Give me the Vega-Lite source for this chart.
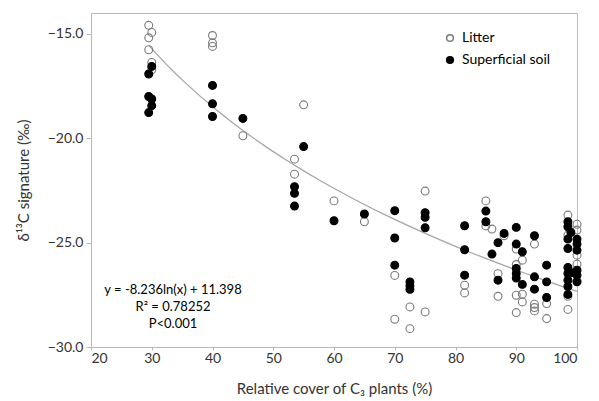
{
  "$schema": "https://vega.github.io/schema/vega-lite/v6.json",
  "width": 486,
  "height": 334,
  "autosize": {"type": "none"},
  "padding": {"left": 91, "top": 13, "right": 22, "bottom": 54},
  "background": "white",
  "config": {
    "font": "Lato",
    "view": {"stroke": "#b8b8b8", "strokeWidth": 1},
    "axis": {"grid": false, "domainColor": "#b8b8b8", "tickColor": "#b8b8b8", "labelColor": "#333333", "titleColor": "#333333", "labelFontSize": 14, "titleFontSize": 15, "titleFontWeight": "normal", "labelFont": "Lato", "titleFont": "Lato"}
  },
  "datasets": {
    "trend": [
      {"cover": 29.8, "d13C": -15.76},
      {"cover": 40, "d13C": -18.3},
      {"cover": 51.1, "d13C": -20.88},
      {"cover": 74.2, "d13C": -24.5},
      {"cover": 77.4, "d13C": -24.88},
      {"cover": 84.3, "d13C": -25.68},
      {"cover": 98.85, "d13C": -27.2}
    ],
    "pts": [
      {"cover": 29.5, "d13C": -14.59, "type": "Litter"},
      {"cover": 30, "d13C": -14.93, "type": "Litter"},
      {"cover": 29.5, "d13C": -15.19, "type": "Litter"},
      {"cover": 29.5, "d13C": -15.76, "type": "Litter"},
      {"cover": 30, "d13C": -16.37, "type": "Litter"},
      {"cover": 30, "d13C": -16.72, "type": "Litter"},
      {"cover": 40, "d13C": -15.08, "type": "Litter"},
      {"cover": 40, "d13C": -15.43, "type": "Litter"},
      {"cover": 40, "d13C": -15.6, "type": "Litter"},
      {"cover": 45, "d13C": -19.88, "type": "Litter"},
      {"cover": 55, "d13C": -18.4, "type": "Litter"},
      {"cover": 53.5, "d13C": -21.0, "type": "Litter"},
      {"cover": 53.5, "d13C": -21.72, "type": "Litter"},
      {"cover": 60, "d13C": -23.0, "type": "Litter"},
      {"cover": 65, "d13C": -24.0, "type": "Litter"},
      {"cover": 70, "d13C": -26.57, "type": "Litter"},
      {"cover": 70, "d13C": -28.67, "type": "Litter"},
      {"cover": 72.5, "d13C": -28.08, "type": "Litter"},
      {"cover": 72.5, "d13C": -29.12, "type": "Litter"},
      {"cover": 75, "d13C": -22.53, "type": "Litter"},
      {"cover": 75, "d13C": -28.32, "type": "Litter"},
      {"cover": 81.5, "d13C": -27.04, "type": "Litter"},
      {"cover": 81.5, "d13C": -27.41, "type": "Litter"},
      {"cover": 85, "d13C": -23.0, "type": "Litter"},
      {"cover": 85, "d13C": -24.2, "type": "Litter"},
      {"cover": 86, "d13C": -24.35, "type": "Litter"},
      {"cover": 88, "d13C": -24.67, "type": "Litter"},
      {"cover": 87, "d13C": -26.49, "type": "Litter"},
      {"cover": 87, "d13C": -27.57, "type": "Litter"},
      {"cover": 90, "d13C": -25.31, "type": "Litter"},
      {"cover": 90, "d13C": -26.05, "type": "Litter"},
      {"cover": 90, "d13C": -27.52, "type": "Litter"},
      {"cover": 90, "d13C": -28.35, "type": "Litter"},
      {"cover": 91, "d13C": -25.84, "type": "Litter"},
      {"cover": 91, "d13C": -27.47, "type": "Litter"},
      {"cover": 91, "d13C": -27.84, "type": "Litter"},
      {"cover": 93, "d13C": -25.07, "type": "Litter"},
      {"cover": 93, "d13C": -27.95, "type": "Litter"},
      {"cover": 93, "d13C": -28.11, "type": "Litter"},
      {"cover": 93, "d13C": -28.27, "type": "Litter"},
      {"cover": 95, "d13C": -27.92, "type": "Litter"},
      {"cover": 95, "d13C": -28.64, "type": "Litter"},
      {"cover": 98.5, "d13C": -23.68, "type": "Litter"},
      {"cover": 98.5, "d13C": -24.64, "type": "Litter"},
      {"cover": 98.5, "d13C": -27.57, "type": "Litter"},
      {"cover": 98.5, "d13C": -28.2, "type": "Litter"},
      {"cover": 100, "d13C": -24.12, "type": "Litter"},
      {"cover": 100, "d13C": -24.4, "type": "Litter"},
      {"cover": 100, "d13C": -25.6, "type": "Litter"},
      {"cover": 100, "d13C": -26.03, "type": "Litter"},
      {"cover": 100, "d13C": -26.84, "type": "Litter"},
      {"cover": 30, "d13C": -16.56, "type": "Superficial soil"},
      {"cover": 29.5, "d13C": -16.92, "type": "Superficial soil"},
      {"cover": 29.5, "d13C": -18.0, "type": "Superficial soil"},
      {"cover": 30, "d13C": -18.12, "type": "Superficial soil"},
      {"cover": 30, "d13C": -18.44, "type": "Superficial soil"},
      {"cover": 29.5, "d13C": -18.77, "type": "Superficial soil"},
      {"cover": 40, "d13C": -17.47, "type": "Superficial soil"},
      {"cover": 40, "d13C": -18.35, "type": "Superficial soil"},
      {"cover": 40, "d13C": -18.96, "type": "Superficial soil"},
      {"cover": 45, "d13C": -19.05, "type": "Superficial soil"},
      {"cover": 55, "d13C": -20.4, "type": "Superficial soil"},
      {"cover": 53.5, "d13C": -22.32, "type": "Superficial soil"},
      {"cover": 53.5, "d13C": -22.64, "type": "Superficial soil"},
      {"cover": 53.5, "d13C": -23.25, "type": "Superficial soil"},
      {"cover": 60, "d13C": -23.95, "type": "Superficial soil"},
      {"cover": 65, "d13C": -23.63, "type": "Superficial soil"},
      {"cover": 70, "d13C": -23.47, "type": "Superficial soil"},
      {"cover": 70, "d13C": -24.78, "type": "Superficial soil"},
      {"cover": 70, "d13C": -26.08, "type": "Superficial soil"},
      {"cover": 72.5, "d13C": -26.88, "type": "Superficial soil"},
      {"cover": 72.5, "d13C": -27.07, "type": "Superficial soil"},
      {"cover": 72.5, "d13C": -27.24, "type": "Superficial soil"},
      {"cover": 75, "d13C": -23.57, "type": "Superficial soil"},
      {"cover": 75, "d13C": -23.79, "type": "Superficial soil"},
      {"cover": 75, "d13C": -24.29, "type": "Superficial soil"},
      {"cover": 81.5, "d13C": -24.19, "type": "Superficial soil"},
      {"cover": 81.5, "d13C": -25.34, "type": "Superficial soil"},
      {"cover": 81.5, "d13C": -26.56, "type": "Superficial soil"},
      {"cover": 85, "d13C": -23.49, "type": "Superficial soil"},
      {"cover": 85, "d13C": -24.0, "type": "Superficial soil"},
      {"cover": 86, "d13C": -25.55, "type": "Superficial soil"},
      {"cover": 87, "d13C": -25.0, "type": "Superficial soil"},
      {"cover": 88, "d13C": -24.56, "type": "Superficial soil"},
      {"cover": 87, "d13C": -26.8, "type": "Superficial soil"},
      {"cover": 90, "d13C": -24.27, "type": "Superficial soil"},
      {"cover": 90, "d13C": -25.07, "type": "Superficial soil"},
      {"cover": 90, "d13C": -26.24, "type": "Superficial soil"},
      {"cover": 90, "d13C": -26.48, "type": "Superficial soil"},
      {"cover": 90, "d13C": -26.7, "type": "Superficial soil"},
      {"cover": 91, "d13C": -25.44, "type": "Superficial soil"},
      {"cover": 91, "d13C": -27.0, "type": "Superficial soil"},
      {"cover": 93, "d13C": -24.67, "type": "Superficial soil"},
      {"cover": 93, "d13C": -26.64, "type": "Superficial soil"},
      {"cover": 93, "d13C": -27.23, "type": "Superficial soil"},
      {"cover": 95, "d13C": -26.08, "type": "Superficial soil"},
      {"cover": 95, "d13C": -26.88, "type": "Superficial soil"},
      {"cover": 95, "d13C": -27.63, "type": "Superficial soil"},
      {"cover": 98.5, "d13C": -24.0, "type": "Superficial soil"},
      {"cover": 98.5, "d13C": -24.24, "type": "Superficial soil"},
      {"cover": 98.5, "d13C": -24.83, "type": "Superficial soil"},
      {"cover": 98.5, "d13C": -25.28, "type": "Superficial soil"},
      {"cover": 98.5, "d13C": -26.19, "type": "Superficial soil"},
      {"cover": 98.5, "d13C": -26.48, "type": "Superficial soil"},
      {"cover": 98.5, "d13C": -26.8, "type": "Superficial soil"},
      {"cover": 98.5, "d13C": -27.1, "type": "Superficial soil"},
      {"cover": 98.5, "d13C": -27.48, "type": "Superficial soil"},
      {"cover": 99, "d13C": -24.51, "type": "Superficial soil"},
      {"cover": 99, "d13C": -26.44, "type": "Superficial soil"},
      {"cover": 100, "d13C": -24.84, "type": "Superficial soil"},
      {"cover": 100, "d13C": -25.07, "type": "Superficial soil"},
      {"cover": 100, "d13C": -25.36, "type": "Superficial soil"},
      {"cover": 100, "d13C": -26.32, "type": "Superficial soil"},
      {"cover": 100, "d13C": -26.56, "type": "Superficial soil"},
      {"cover": 100, "d13C": -26.88, "type": "Superficial soil"}
    ]
  },
  "layer": [
    {
      "data": {"name": "trend"},
      "transform": [{"regression": "d13C", "on": "cover", "method": "log", "extent": [29.6, 100]}],
      "mark": {"type": "line", "color": "#a6a6a6", "strokeWidth": 1.3},
      "encoding": {
        "x": {"field": "cover", "type": "quantitative"},
        "y": {"field": "d13C", "type": "quantitative"}
      }
    },
    {
      "data": {"name": "pts"},
      "mark": {"type": "point", "filled": true, "size": 62, "strokeWidth": 1.1, "opacity": 1, "shape": "circle"},
      "encoding": {
        "x": {"field": "cover", "type": "quantitative", "scale": {"domain": [20, 100], "nice": false, "zero": false},
          "axis": {"values": [20, 30, 40, 50, 60, 70, 80, 90, 100], "tickSize": 3, "labelPadding": 1, "title": "Relative cover of C₃ plants (%)", "titlePadding": 16}},
        "y": {"field": "d13C", "type": "quantitative", "scale": {"domain": [-30, -14], "nice": false, "zero": false},
          "axis": {"values": [-30, -25, -20, -15], "format": ".1f", "tickSize": 5, "labelPadding": 3, "title": "δ¹³C signature (‰)", "titlePadding": 16}},
        "fill": {"field": "type", "type": "nominal", "scale": {"domain": ["Litter", "Superficial soil"], "range": ["transparent", "#000000"]}, "title": null,
          "legend": {"orient": "none", "legendX": 352, "legendY": 18, "labelFontSize": 14, "labelColor": "#000000", "symbolSize": 45, "rowPadding": 8, "labelOffset": 5, "labelFont": "Lato"}},
        "stroke": {"field": "type", "type": "nominal", "scale": {"domain": ["Litter", "Superficial soil"], "range": ["#7a7a7a", "#000000"]}, "title": null,
          "legend": {"orient": "none", "legendX": 352, "legendY": 18, "labelFontSize": 14, "labelColor": "#000000", "symbolSize": 45, "rowPadding": 8, "labelOffset": 5, "labelFont": "Lato"}}
      }
    },
    {
      "data": {"values": [{"note": "fit"}]},
      "mark": {"type": "text", "align": "center", "baseline": "top", "fontSize": 13, "lineHeight": 17, "color": "#000000", "font": "Lato"},
      "encoding": {
        "x": {"datum": 33.5},
        "y": {"datum": -27.0},
        "text": {"value": ["y = -8.236ln(x) + 11.398", "R² = 0.78252", "P<0.001"]}
      }
    }
  ]
}
